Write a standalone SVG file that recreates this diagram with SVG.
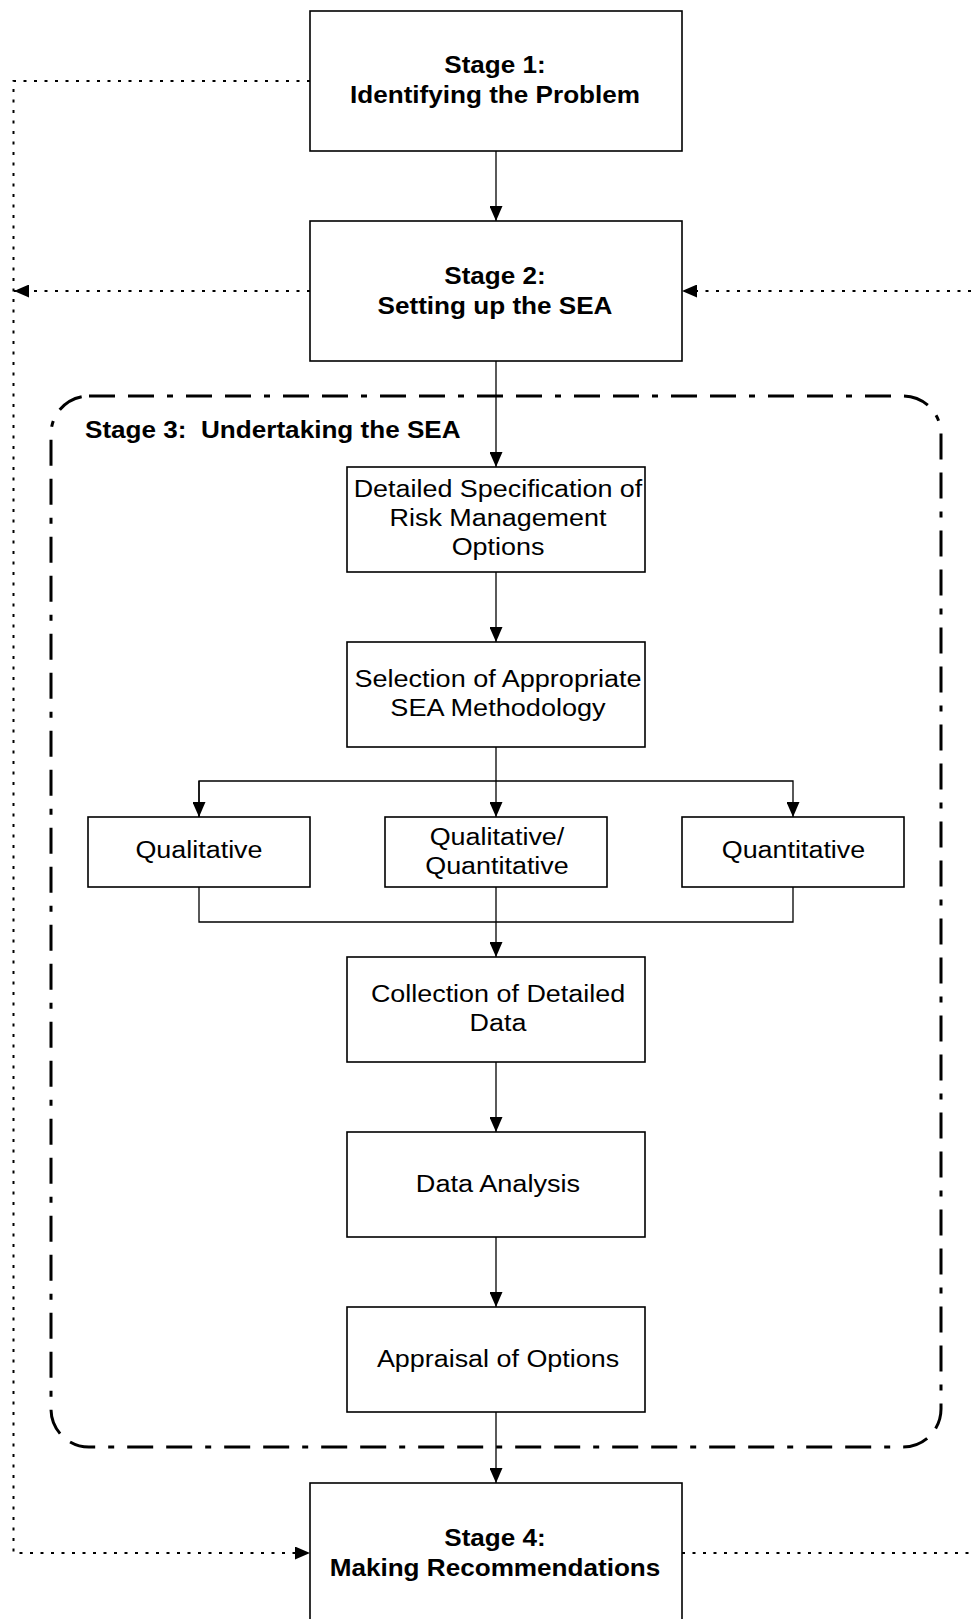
<svg xmlns="http://www.w3.org/2000/svg" width="971" height="1619" viewBox="0 0 971 1619">
<style>
.box{fill:#fff;stroke:#000;stroke-width:1.6}
.t{font-family:"Liberation Sans",Arial,sans-serif;font-size:23px;fill:#000;text-anchor:middle}
.b{font-weight:bold}
.con{fill:none;stroke:#000;stroke-width:1.3}
.dot{fill:none;stroke:#000;stroke-width:2;stroke-dasharray:3 7.5}
.frame{fill:none;stroke:#000;stroke-width:3;stroke-dasharray:26 13 26 13 6 13}
</style>
<defs>
<marker id="arr" viewBox="0 0 15 13" markerWidth="15" markerHeight="13" refX="15" refY="6.5" orient="auto" markerUnits="userSpaceOnUse">
<path d="M0,0 L15,6.5 L0,13 z" fill="#000"/>
</marker>
</defs>
<rect width="971" height="1619" fill="#fff"/>

<g id="stage3">
<rect class="frame" x="51" y="396" width="890" height="1051" rx="38" ry="38"/>
<text class="t b" x="85" y="438" style="text-anchor:start" xml:space="preserve" textLength="375.6" lengthAdjust="spacingAndGlyphs">Stage 3:  Undertaking the SEA</text>
</g>

<g id="connectors">
<path class="con" d="M496,151 V221" marker-end="url(#arr)"/>
<path class="con" d="M496,361 V467" marker-end="url(#arr)"/>
<path class="con" d="M496,572 V642" marker-end="url(#arr)"/>
<path class="con" d="M496,747 V817" marker-end="url(#arr)"/>
<path class="con" d="M199,817 V781 H793 V817" marker-end="url(#arr)"/>
<path class="con" d="M199,781 V817" marker-end="url(#arr)"/>
<path class="con" d="M199,887 V922 H793 V887"/>
<path class="con" d="M496,887 V957" marker-end="url(#arr)"/>
<path class="con" d="M496,1062 V1132" marker-end="url(#arr)"/>
<path class="con" d="M496,1237 V1307" marker-end="url(#arr)"/>
<path class="con" d="M496,1412 V1483" marker-end="url(#arr)"/>
<path class="dot" d="M310,81 H13.5 V1553 H310" marker-end="url(#arr)"/>
<path class="dot" d="M310,291 H14" marker-end="url(#arr)"/>
<path class="dot" d="M971,291 H682" marker-end="url(#arr)"/>
<path class="dot" d="M682,1553 H971"/>
</g>

<g id="stage1">
<rect class="box" x="310" y="11" width="372" height="140"/>
<text class="t b" x="495" y="73" textLength="101.5" lengthAdjust="spacingAndGlyphs">Stage 1:</text>
<text class="t b" x="495" y="103" textLength="290" lengthAdjust="spacingAndGlyphs">Identifying the Problem</text>
</g>

<g id="stage2">
<rect class="box" x="310" y="221" width="372" height="140"/>
<text class="t b" x="495" y="284" textLength="101.5" lengthAdjust="spacingAndGlyphs">Stage 2:</text>
<text class="t b" x="495" y="314" textLength="234.9" lengthAdjust="spacingAndGlyphs">Setting up the SEA</text>
</g>

<g id="spec">
<rect class="box" x="347" y="467" width="298" height="105"/>
<text class="t" x="498" y="497" textLength="288.6" lengthAdjust="spacingAndGlyphs">Detailed Specification of</text>
<text class="t" x="498" y="526" textLength="216.8" lengthAdjust="spacingAndGlyphs">Risk Management</text>
<text class="t" x="498" y="555" textLength="92.7" lengthAdjust="spacingAndGlyphs">Options</text>
</g>

<g id="selection">
<rect class="box" x="347" y="642" width="298" height="105"/>
<text class="t" x="498" y="687" textLength="287.1" lengthAdjust="spacingAndGlyphs">Selection of Appropriate</text>
<text class="t" x="498" y="716" textLength="215.3" lengthAdjust="spacingAndGlyphs">SEA Methodology</text>
</g>

<g id="qualitative">
<rect class="box" x="88" y="817" width="222" height="70"/>
<text class="t" x="199" y="858" textLength="127.1" lengthAdjust="spacingAndGlyphs">Qualitative</text>
</g>

<g id="qualquant">
<rect class="box" x="385" y="817" width="222" height="70"/>
<text class="t" x="497" y="845" textLength="134.6" lengthAdjust="spacingAndGlyphs">Qualitative/</text>
<text class="t" x="497" y="874" textLength="143.5" lengthAdjust="spacingAndGlyphs">Quantitative</text>
</g>

<g id="quantitative">
<rect class="box" x="682" y="817" width="222" height="70"/>
<text class="t" x="793.5" y="858" textLength="143.5" lengthAdjust="spacingAndGlyphs">Quantitative</text>
</g>

<g id="collection">
<rect class="box" x="347" y="957" width="298" height="105"/>
<text class="t" x="498" y="1002" textLength="254.2" lengthAdjust="spacingAndGlyphs">Collection of Detailed</text>
<text class="t" x="498" y="1031" textLength="56.8" lengthAdjust="spacingAndGlyphs">Data</text>
</g>

<g id="analysis">
<rect class="box" x="347" y="1132" width="298" height="105"/>
<text class="t" x="498" y="1192" textLength="164.4" lengthAdjust="spacingAndGlyphs">Data Analysis</text>
</g>

<g id="appraisal">
<rect class="box" x="347" y="1307" width="298" height="105"/>
<text class="t" x="498" y="1367" textLength="242.2" lengthAdjust="spacingAndGlyphs">Appraisal of Options</text>
</g>

<g id="stage4">
<rect class="box" x="310" y="1483" width="372" height="140"/>
<text class="t b" x="495" y="1546" textLength="101.5" lengthAdjust="spacingAndGlyphs">Stage 4:</text>
<text class="t b" x="495" y="1576" textLength="330.7" lengthAdjust="spacingAndGlyphs">Making Recommendations</text>
</g>
</svg>
